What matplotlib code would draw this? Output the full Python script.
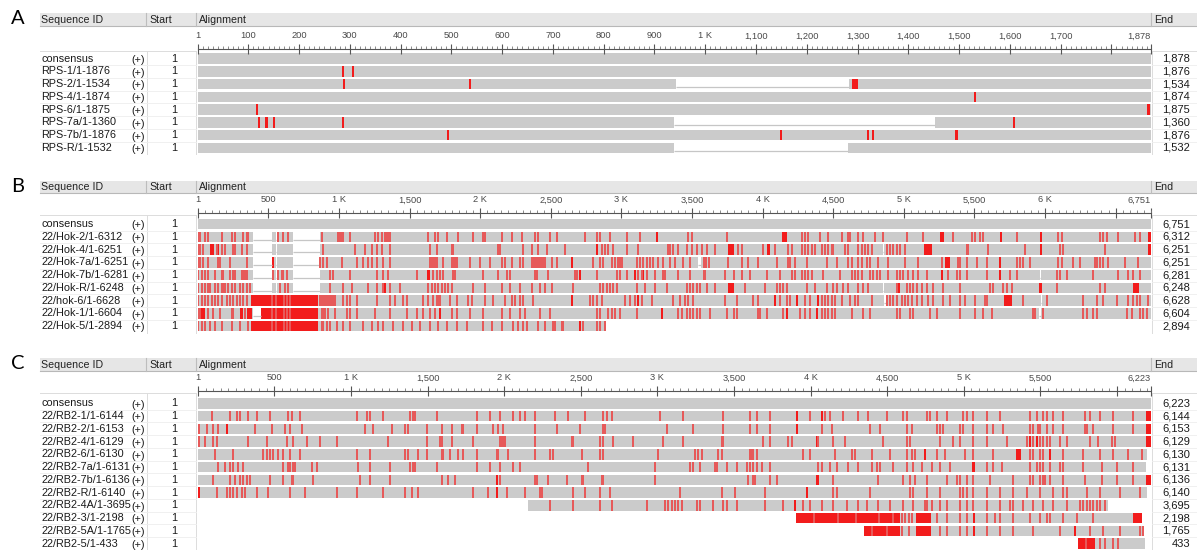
import matplotlib
matplotlib.use('Agg')
from matplotlib import pyplot as plt
from matplotlib.patches import Rectangle
from matplotlib.ticker import MultipleLocator

plt.rcParams['font.family'] = ['Liberation Sans', 'DejaVu Sans']

##################################################################################
### DATA: RPS alignment
##################################################################################
rps_names = ['consensus', 'RPS-1/1-1876', 'RPS-2/1-1534', 'RPS-4/1-1874',
             'RPS-6/1-1875', 'RPS-7a/1-1360', 'RPS-7b/1-1876', 'RPS-R/1-1532']
rps_ends = [1878, 1876, 1534, 1874, 1875, 1360, 1876, 1532]
rps_len = 1878
rps_spans = [(1, 1878)] * 8
rps_gaps = [[], [], [(942, 1283)], [], [], [(938, 1453)], [], [(938, 1281)]]
rps_light = [[], [], [], [], [], [], [], []]
rps_blocks = [[], [(285, 289), (304, 308)], [(286, 290), (535, 539), (1289, 1301)],
              [(1529, 1533)], [(115, 119), (1871, 1876)],
              [(119, 124), (134, 138), (149, 153), (285, 289), (1606, 1610)],
              [(491, 495), (1147, 1152), (1319, 1323), (1328, 1332), (1491, 1498)], []]
rps_ticks = [1, 100, 200, 300, 400, 500, 600, 700, 800, 900, 1000, 1100, 1200,
             1300, 1400, 1500, 1600, 1700, 1800, 1878]
rps_tick_labels = ['1', '100', '200', '300', '400', '500', '600', '700', '800', '900',
                   '1 K', '1,100', '1,200', '1,300', '1,400', '1,500', '1,600', '1,700',
                   '', '1,878']

##################################################################################
### DATA: Hok alignment
##################################################################################
hok_names = ['consensus', '22/Hok-2/1-6312', '22/Hok-4/1-6251', '22/Hok-7a/1-6251',
             '22/Hok-7b/1-6281', '22/Hok-R/1-6248', '22/hok-6/1-6628',
             '22/Hok-1/1-6604', '22/Hok-5/1-2894']
hok_ends = [6751, 6312, 6251, 6251, 6281, 6248, 6628, 6604, 2894]
hok_len = 6751
hok_spans = [(1, 6751)] * 8 + [(1, 2894)]
hok_gaps = [[],
            [(388, 523), (551, 562), (676, 862)],
            [(388, 523), (551, 562), (676, 862), (4855, 4862)],
            [(388, 523), (551, 562), (676, 862), (3540, 3565)],
            [(388, 523), (551, 562), (676, 862), (5965, 5975)],
            [(388, 523), (551, 562), (676, 862), (4855, 4862)],
            [(4863, 4872), (5972, 5982)],
            [(392, 445), (5960, 5970)],
            []]
hok_light = [
    [],
    [3, 15, 50, 74, 169, 240, 263, 322, 346, 357, 570, 605, 641, 877, 994, 1006, 1018,
     1030, 1077, 1254, 1278, 1301, 1325, 1337, 1349, 1360, 1632, 1679, 1703, 1762, 1844,
     1950, 2021, 2033, 2151, 2222, 2293, 2388, 2411, 2494, 2542, 2742, 2825, 2848, 2919,
     3037, 3131, 3474, 3497, 3745, 4277, 4300, 4324, 4406, 4465, 4560, 4607, 4619,
     4678, 4713, 4796, 4855, 5020, 5138, 5351, 5481, 5504, 5540, 5563, 5800, 6095, 6119,
     6390, 6413, 6437, 6519, 6637, 6673],
    [3, 15, 38, 133, 169, 192, 251, 263, 310, 346, 888, 1113, 1183, 1231, 1266, 1302,
     1361, 1644, 1691, 1798, 1810, 2128, 2140, 2306, 2364, 2411, 2470, 2600, 2860, 2884,
     2907, 2943, 3038, 3120, 3333, 3345, 3368, 3403, 3463, 3498, 3534, 3569, 3605, 3663,
     3829, 3853, 4006, 4089, 4183, 4207, 4277, 4300, 4324, 4348, 4371, 4418, 4442, 4465,
     4489, 4501, 4584, 4607, 4678, 4702, 4725, 4749, 4772, 4878, 4902, 4926, 4949, 4972,
     5008, 5445, 5457, 5597, 5861, 6107, 6131, 6425],
    [3, 15, 38, 74, 145, 157, 228, 346, 865, 888, 912, 1018, 1124, 1171, 1207, 1231, 1266,
     1313, 1361, 1644, 1656, 1668, 1679, 1691, 1738, 1798, 1810, 1821, 1833, 1927, 1998,
     2069, 2151, 2175, 2222, 2281, 2305, 2364, 2376, 2388, 2400, 2411, 2423, 2435, 2447,
     2459, 2506, 2542, 2801, 2848, 2872, 2931, 2955, 2978, 2990, 3002, 3108, 3131, 3155,
     3179, 3203, 3226, 3262, 3297, 3344, 3380, 3439, 3486, 3582, 3600, 3617, 3757, 3852,
     3899, 3970, 4100, 4182, 4194, 4230, 4312, 4454, 4525, 4607, 4631, 4678, 4702, 4737,
     4761, 4820, 4891, 5008, 5103, 5269, 5386, 5398, 5445, 5516, 5587, 5800, 5823, 5847,
     5894, 6095, 6119, 6201, 6248, 6354, 6366, 6390, 6413, 6449, 6567, 6661],
    [3, 27, 50, 74, 121, 169, 180, 228, 251, 263, 310, 322, 334, 346, 534, 570, 593, 605,
     629, 936, 959, 1078, 1267, 1314, 1349, 1550, 1667, 1691, 1715, 1739, 1809, 1821,
     2022, 2128, 2187, 2211, 2388, 2400, 2482, 2671, 2683, 2825, 2967, 2990, 3037, 3120,
     3143, 3179, 3238, 3297, 3309, 3403, 3486, 3582, 3593, 3735, 3794, 3853, 3912, 4030,
     4124, 4206, 4230, 4277, 4300, 4324, 4348, 4430, 4548, 4631, 4655, 4678, 4702, 4761,
     4784, 4808, 4832, 4891, 4950, 4973, 4997, 5032, 5067, 5103, 5162, 5316, 5375, 5398,
     5445, 5587, 5752, 5800, 6082, 6106, 6154, 6343, 6520, 6591, 6626, 6673],
    [3, 27, 50, 74, 86, 121, 145, 169, 180, 192, 216, 240, 263, 298, 322, 346, 369, 582,
     617, 641, 936, 1030, 1089, 1207, 1267, 1314, 1361, 1432, 1632, 1656, 1679, 1703,
     1727, 1750, 1774, 1798, 1951, 2034, 2152, 2211, 2282, 2364, 2423, 2459, 2506, 2659,
     2848, 2872, 2896, 2919, 2943, 2967, 3108, 3167, 3238, 3320, 3462, 3486, 3509, 3533,
     3557, 3604, 3663, 3876, 4017, 4100, 4124, 4148, 4171, 4312, 4371, 4454, 4501, 4525,
     4572, 4607, 4678, 4713, 4749, 4950, 5020, 5044, 5068, 5091, 5127, 5162, 5209, 5280,
     5398, 5611, 5634, 5705, 5729, 5764, 6083, 6390, 6425],
    [3, 27, 50, 74, 98, 121, 145, 169, 204, 228, 251, 275, 298, 322, 346, 523, 553, 612,
     629, 652, 865, 877, 888, 900, 912, 924, 936, 948, 959, 971, 1030, 1053, 1077, 1124,
     1267, 1361, 1396, 1455, 1479, 1597, 1632, 1668, 1691, 1703, 1715, 1786, 1833, 1916,
     1940, 2034, 2093, 2175, 2222, 2246, 2282, 2305, 2376, 2778, 2801, 2825, 2860, 3025,
     3061, 3096, 3144, 3214, 3368, 3415, 3450, 3474, 3510, 3734, 3817, 3935, 3970, 4123,
     4171, 4194, 4300, 4336, 4419, 4442, 4466, 4490, 4513, 4561, 4620, 4655, 4678, 4772,
     4878, 4902, 4926, 4949, 4984, 5008, 5032, 5056, 5091, 5127, 5173, 5209, 5280, 5327,
     5398, 5433, 5504, 5575, 5587, 5847, 6012, 6272, 6366, 6413, 6508, 6590, 6626, 6650,
     6673, 6732],
    [3, 15, 74, 109, 157, 240, 251, 334, 523, 553, 612, 629, 652, 877, 888, 900, 924, 971,
     1053, 1077, 1124, 1255, 1361, 1479, 1550, 1597, 1644, 1679, 1798, 1833, 1927, 2022,
     2152, 2211, 2282, 2317, 2423, 2494, 2825, 2848, 2907, 2931, 2955, 2990, 3108, 3403,
     3427, 3462, 3486, 3510, 3533, 3557, 3628, 3746, 3794, 3817, 3970, 3982, 4029, 4147,
     4265, 4300, 4336, 4419, 4442, 4466, 4490, 4513, 4631, 4713, 4761, 4950, 4973, 5044,
     5068, 5186, 5233, 5398, 5504, 5563, 5622, 5918, 5930, 5989, 6272, 6296, 6343, 6367,
     6579, 6614, 6673, 6697, 6720],
    [3, 27, 50, 86, 121, 169, 240, 298, 357, 523, 553, 612, 629, 652, 877, 888, 912, 936,
     983, 1030, 1077, 1172, 1231, 1278, 1314, 1384, 1455, 1514, 1573, 1644, 1703, 1762,
     1833, 1904, 2022, 2081, 2152, 2234, 2270, 2305, 2329, 2411, 2459, 2518, 2530, 2577,
     2589, 2730, 2825, 2848, 2884],
]
hok_blocks = [
    [],
    [(3244, 3256), (4140, 4175), (5260, 5285), (5682, 5694), (5962, 5980), (6730, 6751)],
    [(84, 112), (140, 150), (2822, 2836), (3755, 3797), (4036, 4048), (5140, 5200),
     (5962, 5980), (6730, 6751)],
    [(525, 537), (2640, 2656), (5292, 5328), (5676, 5688)],
    [(1626, 1640), (2700, 2714), (3090, 3104), (3148, 3162), (5262, 5278), (5676, 5688)],
    [(1320, 1332), (3755, 3797), (4955, 4970), (5960, 5976), (6622, 6664)],
    [(376, 853), (2645, 2660), (3114, 3126), (4082, 4094), (4236, 4248), (4389, 4401),
     (5712, 5770)],
    [(20, 52), (300, 320), (350, 385), (445, 853), (1710, 1720), (3280, 3292),
     (4165, 4177), (4377, 4389)],
    [(376, 853), (2700, 2714)],
]
hok_ticks = [1, 500, 1000, 1500, 2000, 2500, 3000, 3500, 4000, 4500, 5000, 5500,
             6000, 6500, 6751]
hok_tick_labels = ['1', '500', '1 K', '1,500', '2 K', '2,500', '3 K', '3,500', '4 K',
                   '4,500', '5 K', '5,500', '6 K', '', '6,751']

##################################################################################
### DATA: RB2 alignment
##################################################################################
rb_names = ['consensus', '22/RB2-1/1-6144', '22/RB2-2/1-6153', '22/RB2-4/1-6129',
            '22/RB2-6/1-6130', '22/RB2-7a/1-6131', '22/RB2-7b/1-6136', '22/RB2-R/1-6140',
            '22/RB2-4A/1-3695', '22/RB2-3/1-2198', '22/RB2-5A/1-1765', '22/RB2-5/1-433']
rb_ends = [6223, 6144, 6153, 6129, 6130, 6131, 6136, 6140, 3695, 2198, 1765, 433]
rb_len = 6223
rb_spans = [(1, 6223), (1, 6223), (1, 6223), (1, 6223), (1, 6195), (1, 6190), (1, 6223),
            (1, 6195), (2154, 5945), (3904, 6167), (4352, 6178), (5749, 6184)]
rb_gaps = [[]] * 12
rb_light = [
    [],
    [90, 210, 254, 275, 329, 384, 471, 591, 613, 667, 1037, 1102, 1124, 1211, 1385, 1407,
     1418, 1560, 1821, 1908, 1973, 2060, 2103, 2136, 2201, 2332, 2419, 2528, 2647, 2669,
     2702, 3018, 3170, 3431, 3605, 3649, 3736, 3997, 4095, 4128, 4215, 4313, 4378, 4498,
     4606, 4628, 4759, 4781, 4824, 4890, 4998, 5020, 5064, 5151, 5237, 5433, 5477, 5520,
     5542, 5586, 5651, 5793, 5826, 5891, 5978, 6108],
    [10, 58, 101, 134, 373, 482, 569, 602, 678, 1091, 1145, 1265, 1352, 1374, 1494, 1592,
     1657, 1723, 1733, 1821, 1929, 1962, 1994, 2201, 2343, 2495, 2647, 2658, 3061, 3235,
     3431, 3605, 3649, 3736, 4073, 4138, 4388, 4454, 4628, 4661, 4824, 4846, 4868, 4976,
     4998, 5064, 5151, 5194, 5259, 5433, 5455, 5488, 5499, 5542, 5586, 5651, 5793, 5804,
     5847, 5978, 6108],
    [10, 47, 101, 123, 329, 449, 580, 623, 711, 798, 907, 1243, 1494, 1581, 1592, 1657,
     1798, 1973, 1984, 1994, 2005, 2201, 2441, 2452, 2626, 2647, 2713, 2843, 3039, 3170,
     3420, 3431, 3692, 3736, 3855, 3877, 4052, 4150, 4226, 4476, 4628, 4650, 4846, 4933,
     4976, 5064, 5151, 5281, 5412, 5455, 5499, 5520, 5542, 5564, 5629, 5673, 5825, 5879,
     5966, 5988],
    [112, 231, 427, 449, 471, 492, 525, 558, 602, 667, 1037, 1124, 1352, 1374, 1439, 1494,
     1592, 1603, 1647, 1701, 1734, 1821, 1952, 1962, 2028, 2202, 2300, 2321, 2506, 2626,
     2647, 3006, 3245, 3267, 3289, 3397, 3420, 3605, 3616, 3627, 3649, 3953, 3997, 4160,
     4269, 4291, 4400, 4519, 4628, 4661, 4683, 4824, 4878, 5009, 5064, 5194, 5433, 5455,
     5499, 5520, 5651, 5782, 5891, 5978, 6076, 6163],
    [134, 177, 210, 231, 264, 297, 558, 591, 602, 623, 634, 743, 776, 1048, 1124, 1255,
     1385, 1407, 1418, 1560, 1821, 1908, 1973, 2060, 2103, 2549, 2985, 3213, 3235, 3279,
     3377, 3388, 3453, 3518, 3584, 3605, 3627, 3649, 3681, 3736, 4051, 4073, 4128, 4171,
     4247, 4313, 4400, 4432, 4454, 4541, 4628, 4672, 4726, 4791, 4846, 4911, 5151, 5194,
     5248, 5433, 5477, 5499, 5520, 5564, 5629, 5651, 5782, 5902, 6000, 6108],
    [101, 210, 243, 275, 297, 319, 341, 471, 558, 613, 623, 754, 1059, 1124, 1255, 1592,
     1635, 1679, 1973, 2201, 2212, 2288, 2408, 2506, 2517, 2637, 2647, 2985, 3594, 3627,
     3638, 3736, 3779, 4150, 4443, 4606, 4650, 4683, 4759, 4889, 4955, 4976, 5020, 5064,
     5172, 5324, 5433, 5455, 5499, 5520, 5531, 5564, 5651, 5793, 5902, 6000, 6108],
    [123, 188, 210, 231, 254, 286, 308, 384, 460, 602, 700, 907, 1037, 1211, 1352, 1396,
     1439, 1798, 1896, 2016, 2136, 2234, 2245, 2451, 2528, 2626, 2691, 3148, 3420, 3507,
     3703, 4150, 4171, 4389, 4650, 4672, 4759, 4846, 4976, 4998, 5020, 5064, 5151, 5237,
     5324, 5412, 5499, 5586, 5651, 5673, 5804, 5891, 6021, 6152],
    [2299, 2451, 2626, 2702, 2930, 3050, 3072, 3094, 3115, 3137, 3159, 3257, 3279, 3366,
     3431, 3453, 3518, 3703, 3822, 3953, 3997, 4073, 4150, 4237, 4313, 4367, 4443, 4519,
     4606, 4672, 4748, 4759, 4791, 4846, 4889, 4976, 5020, 5064, 5151, 5237, 5303, 5324,
     5390, 5455, 5520, 5586, 5673, 5760, 5782, 5804, 5825, 5847, 5869, 5891, 5923],
    [4020, 4180, 4300, 4450, 4540, 4600, 4620, 4640, 4660, 4824, 4889, 4976, 5020, 5151,
     5205, 5237, 5324, 5433, 5499, 5542, 5564, 5651, 5738, 5847],
    [4400, 4500, 4600, 4640, 4846, 4889, 4976, 5020, 5151, 5237, 5324, 5455, 5629, 5825,
     5912, 6021, 6152, 6174],
    [5800, 5891, 5923, 5978, 6010],
]
rb_blocks = [
    [],
    [(3905, 3915), (4068, 4078), (6188, 6223)],
    [(183, 194), (3905, 3915), (6188, 6223)],
    [(4034, 4054), (5428, 5438), (5472, 5482), (6188, 6223)],
    [(4743, 4753), (5340, 5372), (5559, 5569)],
    [(5059, 5069)],
    [(1946, 1956), (4040, 4052), (6188, 6223)],
    [(3, 14), (1946, 1956), (3970, 3980)],
    [(3893, 3903)],
    [(3904, 4585), (4690, 4785), (5060, 5070), (6108, 6163)],
    [(4352, 4585), (4690, 4785), (5060, 5070), (5722, 5732)],
    [(5749, 5858)],
]
rb_ticks = [1, 500, 1000, 1500, 2000, 2500, 3000, 3500, 4000, 4500, 5000, 5500,
            6000, 6223]
rb_tick_labels = ['1', '500', '1 K', '1,500', '2 K', '2,500', '3 K', '3,500', '4 K',
                  '4,500', '5 K', '5,500', '', '6,223']

##################################################################################
### LAYOUT / STYLE
##################################################################################
W, H = 1197, 550
PITCH = 12.75          # row spacing in pixels
BAR_H = 0.82           # bar height in row units
X0, X1 = 198, 1151     # alignment column
MIN_BLOCK_PX = 2.2     # narrowest strong-red block, in pixels
GREY = '#cbcbcb'
LIGHT_RED = '#e65a5a'
RED = '#f21c1c'
LINE = '#dcdcdc'

fig = plt.figure(figsize=(W / 100, H / 100), dpi=100)
bg = fig.add_axes([0, 0, 1, 1])
bg.set_xlim(0, W)
bg.set_ylim(H, 0)
bg.axis('off')


def draw_panel(letter, top, ruler_y, row0, names, ends, length, spans, gaps,
               light, blocks, ticks, tick_labels, minor):
    '''
    Draws one alignment overview: header, ruler, row table and the bars.
    '''
    n = len(names)
    y_top = row0 - PITCH / 2
    y_bot = row0 + (n - 0.5) * PITCH

    # header strip
    bg.add_patch(Rectangle((40, top), W - 40, 12.7, facecolor='#e6e6e6', edgecolor='none'))
    bg.plot([40, W], [top + 12.7, top + 12.7], color='#b8b8b8', lw=0.8)
    for x in (146, 196, X1):
        bg.plot([x, x], [top, top + 12.7], color='#bdbdbd', lw=0.8)
    for x, s in ((41, 'Sequence ID'), (149, 'Start'), (199, 'Alignment'), (1154, 'End')):
        bg.text(x, top + 6.6, s, fontsize=7.7, va='center', color='#222222')
    bg.text(18, top + 5.5, letter, fontsize=14.5, ha='center', va='center',
            family=['Lato', 'DejaVu Sans'])

    # table grid
    bg.plot([40, 196], [ruler_y + 2, ruler_y + 2], color=LINE, lw=0.7)
    bg.plot([X1 + 1, W], [ruler_y + 2, ruler_y + 2], color=LINE, lw=0.7)
    for x in (147, 196, X1 + 1):
        bg.plot([x, x], [ruler_y + 2, y_bot], color=LINE, lw=0.7)
    for i in range(n - 1):
        y = row0 + (i + 0.5) * PITCH
        bg.plot([40, 196], [y, y], color='#eeeeee', lw=0.6)
        bg.plot([X1 + 1, W], [y, y], color='#eeeeee', lw=0.6)

    # row labels
    for i, name in enumerate(names):
        y = row0 + i * PITCH
        bg.text(41, y, name, fontsize=7.8, va='center', color='#1a1a1a')
        bg.text(138.5, y + 1.3, '(+)', fontsize=7.8, ha='center', va='center', color='#1a1a1a')
        bg.text(174, y, '1', fontsize=7.8, ha='center', va='center', color='#1a1a1a')
        bg.text(1190, y, f'{ends[i]:,}', fontsize=8, ha='right', va='center', color='#1a1a1a')

    # alignment bars
    ax = fig.add_axes([X0 / W, 1 - y_bot / H, (X1 - X0) / W, (y_bot - y_top) / H])
    ax.set_xlim(1, length)
    ax.set_ylim(n - 0.5, -0.5)
    ax.axis('off')
    min_w = MIN_BLOCK_PX * length / (X1 - X0)
    for i in range(n):
        s0, s1 = spans[i]
        segs = []
        cur = s0
        for g0, g1 in gaps[i]:
            segs.append((cur, g0 - cur))
            ax.hlines(i + 0.2, g0, g1, color='#c6c6c6', lw=0.9)
            cur = g1
        segs.append((cur, s1 - cur))
        ax.broken_barh(segs, (i - BAR_H / 2, BAR_H), facecolors=GREY, edgecolors='none')
        if blocks[i]:
            red_segs = []
            for a, b in blocks[i]:
                wd = max(b - a, min_w)
                red_segs.append(((a + b) / 2 - wd / 2, wd))
            ax.broken_barh(red_segs, (i - BAR_H / 2, BAR_H), facecolors=RED,
                           edgecolors='none', antialiased=False)
        if light[i]:
            ax.vlines(light[i], i - BAR_H / 2, i + BAR_H / 2, colors=LIGHT_RED,
                      linewidth=1.1, capstyle='butt', antialiased=False)

    # ruler
    rax = fig.add_axes([X0 / W, 1 - ruler_y / H, (X1 - X0) / W, 2 / H])
    rax.set_xlim(1, length)
    rax.set_yticks([])
    rax.patch.set_alpha(0)
    for s in ('top', 'left', 'right'):
        rax.spines[s].set_visible(False)
    rax.spines['bottom'].set_color('#555555')
    rax.spines['bottom'].set_linewidth(0.8)
    rax.set_xticks(ticks)
    rax.set_xticklabels(tick_labels)
    rax.xaxis.set_minor_locator(MultipleLocator(minor))
    rax.tick_params(axis='x', which='major', direction='inout', length=6.5, width=0.8,
                    color='#555555', labelbottom=False, labeltop=True, labelsize=6.7,
                    labelcolor='#4a4a4a', pad=1.5)
    rax.tick_params(axis='x', which='minor', direction='in', length=2.5, width=0.6,
                    color='#777777')
    rax.xaxis.get_major_ticks()[-1].label2.set_horizontalalignment('right')
    return ax


draw_panel('A', 13.3, 49, 58.7, rps_names, rps_ends, rps_len, rps_spans, rps_gaps,
           rps_light, rps_blocks, rps_ticks, rps_tick_labels, 10)
draw_panel('B', 180.7, 213, 224.2, hok_names, hok_ends, hok_len, hok_spans, hok_gaps,
           hok_light, hok_blocks, hok_ticks, hok_tick_labels, 50)
draw_panel('C', 358.3, 391, 403.3, rb_names, rb_ends, rb_len, rb_spans, rb_gaps,
           rb_light, rb_blocks, rb_ticks, rb_tick_labels, 50)

fig.savefig('out.png', dpi=100)
